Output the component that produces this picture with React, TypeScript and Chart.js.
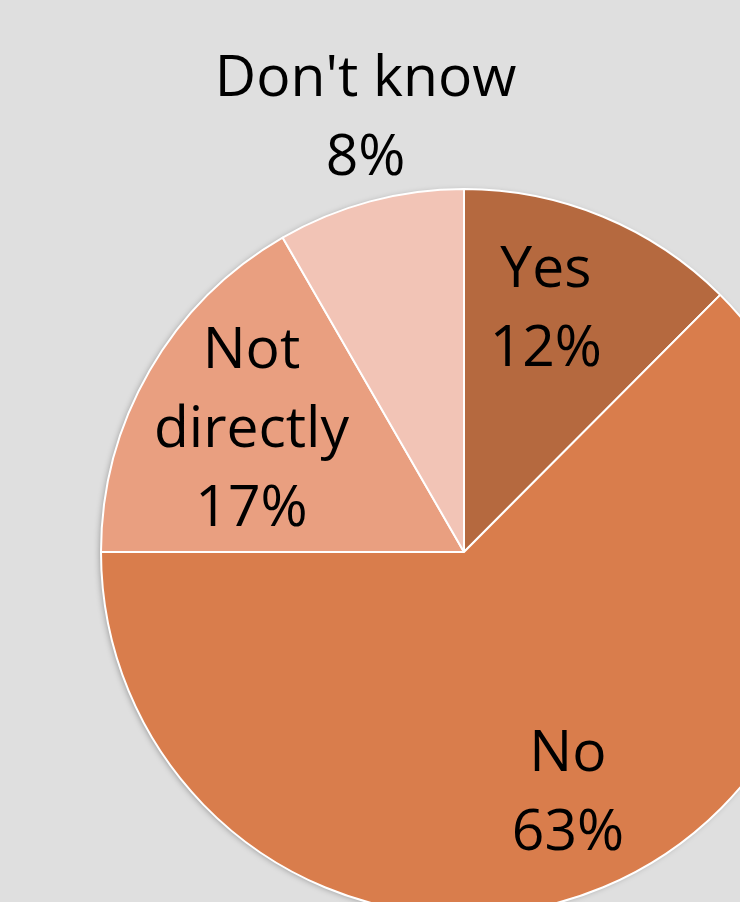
import React, { useEffect, useRef } from "react";
import { Chart, registerables } from "chart.js";

Chart.register(...registerables);

const categories = ["Yes", "No", "Not directly", "Don't know"];
const labelLines = [["Yes"], ["No"], ["Not", "directly"], ["Don't know"]];
const values = [12.47, 62.53, 16.67, 8.33];
const colors = ["#B5693F", "#D97D4C", "#E99F80", "#F2C4B6"];
const labelRadiusFactor = [0.7105, 0.719, 0.678, 1.23];
const labelAngleShiftDeg = [-3.95, -0.92, 0.27, 2.26];

const W = 740;
const H = 902;
const CX = 464;
const CY = 552;
const R = 363;
const TEXT_DY = 3;

const shadowPlugin = {
  id: "pieShadow",
  beforeDatasetsDraw(chart: any) {
    const meta = chart.getDatasetMeta(0);
    const a = meta.data[0];
    if (!a) return;
    const p = a.getProps(["x", "y", "outerRadius"], true);
    const ctx = chart.ctx;
    ctx.save();
    ctx.shadowColor = "rgba(0,0,0,0.35)";
    ctx.shadowBlur = 6;
    ctx.shadowOffsetX = -2;
    ctx.shadowOffsetY = 1;
    ctx.fillStyle = "#D97D4C";
    ctx.beginPath();
    ctx.arc(p.x, p.y, p.outerRadius - 1, 0, Math.PI * 2);
    ctx.fill();
    ctx.restore();
  },
};

const labelPlugin = {
  id: "sliceLabels",
  afterDatasetsDraw(chart: any) {
    const ctx = chart.ctx;
    const meta = chart.getDatasetMeta(0);
    const total = values.reduce((a, b) => a + b, 0);
    ctx.save();
    ctx.fillStyle = "#000000";
    ctx.font = "57px 'Open Sans'";
    ctx.textAlign = "center";
    ctx.textBaseline = "middle";
    const lineH = 79;
    meta.data.forEach((arc: any, i: number) => {
      const p = arc.getProps(["x", "y", "startAngle", "endAngle", "outerRadius"], true);
      const mid = (p.startAngle + p.endAngle) / 2 + (labelAngleShiftDeg[i] * Math.PI) / 180;
      const r = p.outerRadius * labelRadiusFactor[i];
      const x = p.x + Math.cos(mid) * r;
      const y = p.y + Math.sin(mid) * r + TEXT_DY;
      const lines = [...labelLines[i], Math.round((values[i] / total) * 100) + "%"];
      const startY = y - ((lines.length - 1) * lineH) / 2;
      lines.forEach((t, k) => ctx.fillText(t, x, startY + k * lineH));
    });
    ctx.restore();
  },
};

export default function App() {
  const ref = useRef<HTMLCanvasElement | null>(null);
  useEffect(() => {
    document.body.style.margin = "0";
    document.body.style.background = "#DFDFDF";
    document.body.style.overflow = "hidden";
    const chart = new Chart(ref.current as HTMLCanvasElement, {
      type: "pie",
      data: {
        labels: categories,
        datasets: [
          {
            data: values,
            backgroundColor: colors,
            borderColor: "#FFFFFF",
            borderWidth: 2,
            hoverOffset: 0,
            radius: R,
          } as any,
        ],
      },
      options: {
        responsive: false,
        animation: false,
        layout: {
          padding: { left: 2 * CX - W, top: 2 * CY - H, right: 0, bottom: 0 },
        },
        plugins: {
          legend: { display: false },
          tooltip: { enabled: false },
        },
      },
      plugins: [shadowPlugin, labelPlugin],
    });
    return () => chart.destroy();
  }, []);
  return (
    <div style={{ width: W, height: H, background: "#DFDFDF", overflow: "hidden" }}>
      <canvas ref={ref} width={W} height={H} style={{ display: "block" }} />
    </div>
  );
}
